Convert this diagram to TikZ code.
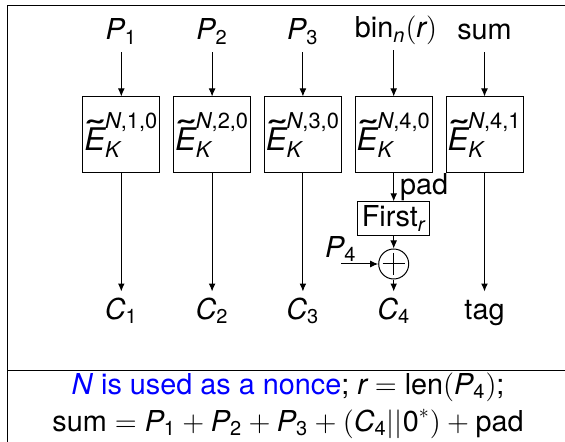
\documentclass[tikz,border=0pt]{standalone}
\usepackage{amsmath}
\usepackage{graphicx}
\usepackage{fontspec}
\setmainfont{TeX Gyre Heros}
\usetikzlibrary{arrows.meta}
% sans-serif italic variables and upright sans digits inside formulas
\newcommand\mvar[1]{\text{\itshape #1}}
\newcommand\mnum[1]{\text{#1}}
% E with a wide tilde above it
\newcommand\tildeE{\text{\rlap{\kern0.08em\raisebox{0.1em}{\scalebox{1.8}[1.25]{\char"02DC}}}\itshape E}}

\begin{document}
\begin{tikzpicture}[x=0.5pt,y=-0.5pt,
  font=\fontsize{14.4}{17}\selectfont,
  line width=0.5pt,
  arr/.style={-{Latex[length=4pt,width=3.4pt]}},
  blockbox/.style={draw, minimum width=38.5pt, minimum height=38pt, inner sep=0pt,
    font=\fontsize{15.6}{18}\selectfont},
  inlbl/.style={anchor=base, inner sep=0pt, text depth=6pt},
  outlbl/.style={anchor=base, inner sep=0pt, text height=13.5pt},
  notetext/.style={anchor=base, inner sep=0pt},
]
\useasboundingbox (0,0) rectangle (565,442);
\clip (0,0) rectangle (565,442);

% table frame and separator above the note
\draw (7,5.5) rectangle (570,480);
\draw (7,370) -- (570,370);

% inputs
\node[inlbl] (in1) at (121.3,40) {$\mvar{P}_{\mnum{1}}$};
\node[inlbl] (in2) at (212.1,40) {$\mvar{P}_{\mnum{2}}$};
\node[inlbl] (in3) at (302.9,40) {$\mvar{P}_{\mnum{3}}$};
\node[inlbl] (in4) at (396,38) {bin$_{\mvar{n}}(\mvar{r})$};
\node[inlbl] (in5) at (484.5,40) {sum};

% tweakable block cipher calls
\node[blockbox] (e1) at (121.3,135) {$\tildeE^{\mvar{N}\mnum{,1,0}}_{\mvar{K}}$};
\node[blockbox] (e2) at (212.1,135) {$\tildeE^{\mvar{N}\mnum{,2,0}}_{\mvar{K}}$};
\node[blockbox] (e3) at (302.9,135) {$\tildeE^{\mvar{N}\mnum{,3,0}}_{\mvar{K}}$};
\node[blockbox] (e4) at (393.7,135) {$\tildeE^{\mvar{N}\mnum{,4,0}}_{\mvar{K}}$};
\node[blockbox] (e5) at (484.5,135) {$\tildeE^{\mvar{N}\mnum{,4,1}}_{\mvar{K}}$};

% outputs
\node[outlbl] (c1) at (121.3,319) {$\mvar{C}_{\mnum{1}}$};
\node[outlbl] (c2) at (212.1,319) {$\mvar{C}_{\mnum{2}}$};
\node[outlbl] (c3) at (302.9,319) {$\mvar{C}_{\mnum{3}}$};
\node[outlbl] (c4) at (393.7,319) {$\mvar{C}_{\mnum{4}}$};
\node[outlbl] (tag) at (484.5,319) {tag};

% truncation and xor of the last partial block
\node[draw, inner sep=2pt, minimum height=15.5pt] (fst) at (393.7,218.5) {First$_{\mvar{r}}$};
\node[circle, draw, minimum size=15pt, inner sep=0pt] (xor) at (393.7,264) {};
\draw (xor.center) ++(-11,0) -- ++(22,0);
\draw (xor.center) ++(0,-11) -- ++(0,22);
\coordinate (p4in) at (341,264);
\node[anchor=south east, inner sep=0pt] (p4) at (357,262) {$\mvar{P}_{\mnum{4}}$};

% connectors
\draw[arr] (in1) -- (e1);
\draw[arr] (in2) -- (e2);
\draw[arr] (in3) -- (e3);
\draw[arr] (in4.south -| e4) -- (e4);
\draw[arr] (in5) -- (e5);
\draw[arr] (e1) -- (c1);
\draw[arr] (e2) -- (c2);
\draw[arr] (e3) -- (c3);
\draw[arr] (e5) -- (tag);
\draw[arr] (e4) -- node[right, inner sep=3pt] {pad} (fst);
\draw[arr] (fst) -- (xor);
\draw[arr] (p4in) -- (xor);
\draw[arr] (xor) -- (c4);

% note
\node[notetext] (note1) at (288,394) {\textcolor{blue}{\textit{N} is used as a nonce}; $\mvar{r}=\text{len}(\mvar{P}_{\mnum{4}})$;};
\node[notetext] (note2) at (288,431) {$\text{sum}=\mvar{P}_{\mnum{1}}+\mvar{P}_{\mnum{2}}+\mvar{P}_{\mnum{3}}+(\mvar{C}_{\mnum{4}}||\mnum{0}^{*})+\text{pad}$};
\end{tikzpicture}
\end{document}
